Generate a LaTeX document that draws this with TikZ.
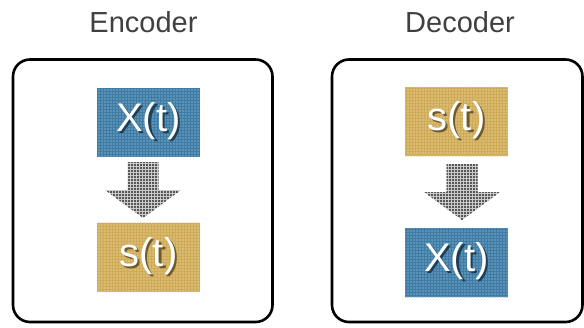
\documentclass[tikz,border=0pt]{standalone}
\usepackage{fontspec}
\setmainfont{Liberation Sans}
\usetikzlibrary{patterns}

% dot screens used as textures on the tiles and the block arrows
\pgfdeclarepatternformonly{softdots}{\pgfpoint{-1.5pt}{-1.5pt}}{\pgfpoint{1.5pt}{1.5pt}}{\pgfpoint{3pt}{3pt}}%
  {\pgfpathcircle{\pgfpointorigin}{0.85pt}\pgfusepath{fill}}
\pgfdeclarepatternformonly{heavydots}{\pgfpoint{-1.5pt}{-1.5pt}}{\pgfpoint{1.5pt}{1.5pt}}{\pgfpoint{3pt}{3pt}}%
  {\pgfpathcircle{\pgfpointorigin}{1.1pt}\pgfusepath{fill}}

\definecolor{titlegray}{HTML}{404040}
\definecolor{tileblue}{HTML}{3F7CA5}
\definecolor{dotblue}{HTML}{78A9C9}
\definecolor{shadeblue}{HTML}{1E3F55}
\definecolor{tilegold}{HTML}{CDAB58}
\definecolor{dotgold}{HTML}{E8CD8C}
\definecolor{shadegold}{HTML}{6E5A2A}
\definecolor{arrowlight}{HTML}{CFCFCF}
\definecolor{arrowdark}{HTML}{2E2E2E}

% white lettering with a dark drop shadow
\newcommand{\dropshadowtext}[2]{%
  \rlap{\raisebox{-2.2pt}{\hspace{2.2pt}\color{#1}#2}}%
  \color{white}#2}

\tikzset{
  title/.style={font=\fontsize{29}{32}\selectfont, text=titlegray},
  panel/.style={draw=black, line width=2.6pt, rounded corners=17pt},
  tile/.style={minimum width=103pt, minimum height=69pt, inner sep=0pt,
    font=\fontsize{40}{44}\selectfont},
  bluetile/.style={tile, fill=tileblue,
    postaction={pattern=softdots, pattern color=dotblue}},
  goldtile/.style={tile, fill=tilegold,
    postaction={pattern=softdots, pattern color=dotgold}},
  blockarrow/.style={fill=arrowlight,
    postaction={pattern=heavydots, pattern color=arrowdark}},
  pics/downarrow/.style={code={
    \path[blockarrow] (-15.5,0) -- (15.5,0) -- (15.5,28) -- (38,28)
      -- (0,56) -- (-38,28) -- (-15.5,28) -- cycle;
  }},
}

\begin{document}
\begin{tikzpicture}[x=1pt, y=-1pt]
  \useasboundingbox (0,0) rectangle (584,327);

  % headings
  \node[title] (enc) at (143.5,22.5) {Encoder};
  \node[title] (dec) at (460,22.5) {Decoder};

  % the two frames
  \draw[panel] (13,59.5) rectangle (272.5,322);
  \draw[panel] (332,59.5) rectangle (582.5,322);

  % encoder: signal to spikes
  \node[bluetile] (encin) at (148.5,122.5) {\dropshadowtext{shadeblue}{X(t)}};
  \node[goldtile] (encout) at (148.5,257) {\dropshadowtext{shadegold}{s(t)}};
  \pic at (143,162) {downarrow};

  % decoder: spikes to signal
  \node[goldtile] (decin) at (456.5,121.5) {\dropshadowtext{shadegold}{s(t)}};
  \node[bluetile] (decout) at (456.5,262.5) {\dropshadowtext{shadeblue}{X(t)}};
  \pic at (462,164) {downarrow};
\end{tikzpicture}
\end{document}
